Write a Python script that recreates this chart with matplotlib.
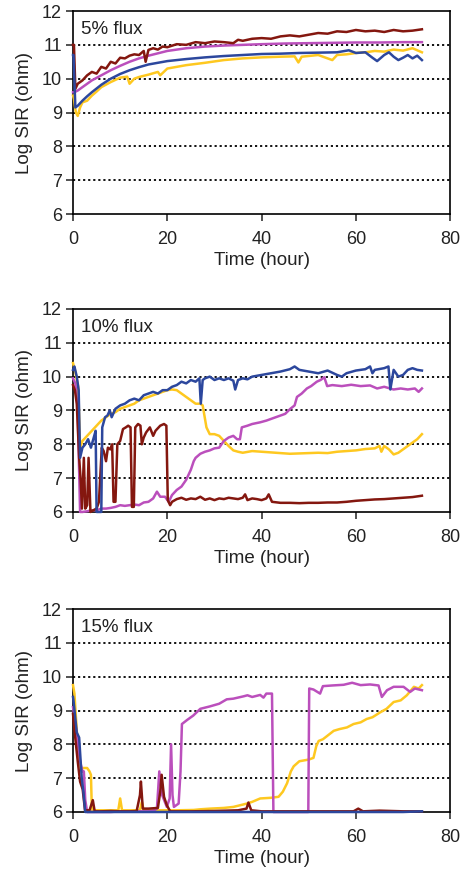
import matplotlib
matplotlib.use("Agg")
import matplotlib.pyplot as plt

plt.rcParams['font.family'] = ['Liberation Sans', 'DejaVu Sans']

# ---- 5% flux ----
t5_red = [0, 0.2, 0.5, 1, 2, 3, 4, 5, 6, 7, 8, 9, 10, 11, 12, 13, 14, 15, 15.4, 16, 17, 18, 19, 20, 22, 24, 26,
          28, 30, 32, 34, 35, 36, 38, 40, 42, 44, 46, 48, 50, 52, 54, 56, 58, 60, 62, 64, 66, 68, 70, 72, 74]
v5_red = [11.0, 11.0, 9.7, 9.85, 9.95, 10.1, 10.2, 10.15, 10.35, 10.3, 10.5, 10.45, 10.62, 10.6, 10.68, 10.72,
          10.7, 10.82, 10.5, 10.85, 10.9, 10.86, 10.95, 10.93, 11.02, 11.0, 11.08, 11.05, 11.1, 11.08, 11.05,
          11.15, 11.12, 11.18, 11.2, 11.18, 11.25, 11.28, 11.25, 11.3, 11.35, 11.33, 11.4, 11.38, 11.44, 11.4,
          11.42, 11.38, 11.44, 11.4, 11.42, 11.46]
t5_mag = [0, 0.3, 1, 2, 3, 4, 6, 8, 10, 12, 14, 16, 18, 20, 24, 28, 32, 36, 40, 45, 50, 55, 60, 65, 70, 74]
v5_mag = [9.6, 9.6, 9.65, 9.75, 9.85, 9.95, 10.1, 10.25, 10.38, 10.5, 10.6, 10.68, 10.75, 10.82, 10.9, 10.95,
          10.98, 11.0, 11.02, 11.04, 11.05, 11.06, 11.07, 11.07, 11.08, 11.08]
t5_blue = [0, 0.1, 0.5, 1, 2, 3, 4, 6, 8, 10, 12, 14, 16, 18, 20, 24, 28, 32, 36, 40, 44, 48, 52, 56, 58.5, 60,
           62, 63.5, 64.5, 66, 67, 68, 69, 70, 71, 72, 73, 74]
v5_blue = [10.7, 10.7, 9.15, 9.2, 9.35, 9.48, 9.6, 9.82, 10.0, 10.14, 10.25, 10.34, 10.42, 10.47, 10.52, 10.58,
           10.63, 10.67, 10.7, 10.73, 10.74, 10.76, 10.77, 10.78, 10.84, 10.76, 10.78, 10.62, 10.52, 10.7, 10.78,
           10.65, 10.55, 10.62, 10.7, 10.6, 10.68, 10.55]
t5_yel = [0, 0.2, 0.6, 1, 1.5, 2, 3, 4, 5, 6, 8, 10, 11.5, 12, 13, 14, 16, 18, 18.5, 20, 24, 28, 32, 36, 40, 44,
          47, 47.8, 48.5, 52, 54, 55, 56, 58, 60, 62, 64, 66, 68, 70, 72, 74]
v5_yel = [9.5, 9.4, 9.0, 8.9, 9.15, 9.3, 9.35, 9.5, 9.62, 9.75, 9.9, 10.03, 10.06, 9.85, 10.0, 10.05, 10.12, 10.2,
          10.1, 10.3, 10.4, 10.47, 10.55, 10.6, 10.63, 10.65, 10.66, 10.48, 10.65, 10.7, 10.6, 10.55, 10.7, 10.72,
          10.76, 10.78, 10.82, 10.8, 10.86, 10.83, 10.9, 10.78]

# ---- 10% flux ----
t10_red = [0, 0.4, 0.8, 1.3, 1.6, 1.9, 2.3, 2.6, 3.0, 3.3, 3.7, 4.3, 5.0, 5.5, 6.1, 6.5, 7.0, 7.4, 7.9, 8.3, 8.6,
           9.0, 9.4, 10, 10.6, 11.2, 11.7, 12.2, 12.5, 12.9, 13.2, 13.8, 14.3, 14.6, 15.0, 15.5, 16.3, 17.0, 17.5,
           18.5, 19.3, 19.8, 20.1, 20.6, 21, 22, 23, 24, 25, 26, 27, 28, 29, 30, 31, 32, 33, 34, 35, 36, 36.5, 37,
           38, 39, 40, 41, 41.5, 42.2, 44, 46, 48, 50, 52, 54, 56, 58, 60, 62, 64, 66, 68, 70, 72, 74]
v10_red = [9.75, 9.6, 9.2, 7.6, 7.0, 6.1, 7.6, 6.1, 6.2, 7.6, 6.0, 6.05, 6.1, 6.3, 7.9, 7.8, 7.5, 7.9, 7.85, 8.0,
           6.3, 6.3, 8.0, 8.1, 8.45, 8.5, 8.55, 8.5, 6.15, 6.15, 8.5, 8.6, 8.55, 8.0, 8.2, 8.35, 8.5, 8.25, 8.4,
           8.55, 8.6, 8.55, 6.35, 6.2, 6.3, 6.38, 6.42, 6.36, 6.4, 6.38, 6.45, 6.36, 6.4, 6.35, 6.4, 6.38, 6.42,
           6.4, 6.38, 6.42, 6.52, 6.35, 6.4, 6.38, 6.35, 6.4, 6.52, 6.3, 6.27, 6.27, 6.26, 6.27, 6.27, 6.28, 6.28,
           6.3, 6.33, 6.35, 6.37, 6.38, 6.4, 6.42, 6.44, 6.48]
t10_mag = [0, 0.5, 1.0, 1.5, 2, 3, 4, 5, 6, 7, 8, 9, 10, 11, 12, 13, 14, 15, 16, 17, 17.8, 18.5, 19.5, 20.3, 21, 22,
           23, 24, 25, 25.6, 26, 27, 28, 29, 30, 31, 32, 33, 34, 34.8, 35.4, 35.8, 37, 38, 39.7, 41, 43, 45, 46.1,
           47, 47.5, 48.5, 49.6, 50.5, 51.7, 52.5, 53.3, 53.9, 55, 57, 59, 61, 63, 64.5, 66, 68, 69.5, 71, 72.5,
           73.3, 74]
v10_mag = [9.95, 9.8, 9.0, 6.0, 6.0, 6.02, 6.05, 6.05, 6.1, 6.1, 6.12, 6.15, 6.2, 6.18, 6.2, 6.22, 6.2, 6.28, 6.3,
           6.4, 6.6, 6.45, 6.45, 6.3, 6.5, 6.65, 6.75, 6.95, 7.25, 7.5, 7.6, 7.72, 7.78, 7.82, 7.88, 7.9, 8.1, 8.2,
           8.25, 8.15, 8.15, 8.5, 8.55, 8.6, 8.65, 8.7, 8.8, 8.9, 9.05, 9.15, 9.4, 9.5, 9.65, 9.72, 9.85, 9.9, 9.98,
           9.72, 9.75, 9.72, 9.76, 9.72, 9.74, 9.65, 9.7, 9.62, 9.65, 9.62, 9.65, 9.55, 9.65]
t10_blue = [0, 0.3, 0.8, 1.2, 1.5, 2.0, 2.6, 3.2, 3.8, 4.4, 4.8, 5.0, 5.5, 6.0, 6.2, 6.8, 7.3, 7.8, 8.2, 9, 10, 11,
            12, 13, 14, 15, 16, 17, 18, 19, 20, 21, 22, 23, 24, 25, 26, 26.8, 27.1, 27.5, 28, 29, 30, 31, 32, 33,
            34, 34.4, 35, 36, 37, 38, 40, 42, 44, 46, 47, 48, 50, 52, 54, 56, 57, 58, 60, 62, 63, 63.5, 64, 66,
            66.9, 67.3, 68, 69, 70, 71, 72, 73, 74]
v10_blue = [10.2, 10.3, 10.0, 9.6, 7.6, 7.9, 8.0, 8.15, 7.9, 8.2, 8.4, 6.0, 6.0, 6.0, 8.5, 8.8, 8.85, 9.0, 8.8,
            9.05, 9.15, 9.2, 9.3, 9.35, 9.3, 9.45, 9.5, 9.55, 9.5, 9.6, 9.6, 9.7, 9.75, 9.85, 9.8, 9.9, 9.85, 9.95,
            9.2, 9.9, 9.95, 10.0, 9.9, 9.95, 9.9, 9.95, 9.88, 9.62, 9.9, 9.95, 9.92, 10.0, 10.05, 10.1, 10.15,
            10.22, 10.3, 10.2, 10.15, 10.1, 10.18, 10.05, 10.0, 10.1, 10.18, 10.22, 10.3, 10.1, 10.2, 10.25, 10.3,
            9.62, 10.2, 10.0, 10.05, 10.2, 10.25, 10.2, 10.18]
t10_yel = [0, 0.4, 1.1, 1.5, 2, 3, 4, 5, 6, 7, 8, 9, 10, 11, 12, 13, 14, 15, 16, 17, 18, 19, 20, 21, 22, 23, 24,
           25, 26, 27, 27.5, 28.3, 29, 30, 31, 32, 33, 34, 35, 36, 38, 40, 42, 44, 46, 48, 50, 52, 54, 56, 58, 60,
           62, 64, 65, 65.4, 66, 67, 68, 69, 70, 71, 72, 73, 74]
v10_yel = [10.4, 10.2, 9.7, 7.9, 8.1, 8.25, 8.4, 8.55, 8.7, 8.8, 8.9, 8.95, 9.05, 9.1, 9.15, 9.2, 9.3, 9.35, 9.4,
           9.45, 9.5, 9.55, 9.6, 9.62, 9.6, 9.5, 9.4, 9.3, 9.2, 9.2, 9.15, 8.5, 8.3, 8.3, 8.25, 8.1, 7.95, 7.82,
           7.78, 7.75, 7.8, 7.78, 7.76, 7.74, 7.72, 7.73, 7.74, 7.75, 7.74, 7.78, 7.8, 7.82, 7.86, 7.88, 7.95, 7.78,
           7.95, 7.85, 7.7, 7.75, 7.85, 7.95, 8.05, 8.15, 8.3]

# ---- 15% flux ----
t15_red = [0, 0.4, 1.0, 1.5, 2.05, 2.55, 3.5, 4.2, 4.6, 6, 8, 10, 12, 13.5, 14.2, 14.4, 14.8, 16, 18, 18.5, 18.8,
           19.3, 19.9, 20.6, 22, 25, 30, 35, 36.8, 37.2, 37.8, 40, 45, 50, 55, 59.5, 60.5, 61.5, 65, 70, 74]
v15_red = [8.9, 8.3, 7.5, 6.9, 6.67, 6.05, 6.05, 6.35, 6.02, 6.02, 6.03, 6.02, 6.02, 6.03, 6.5, 6.9, 6.1, 6.1,
           6.12, 6.6, 7.1, 6.45, 6.2, 6.02, 6.02, 6.02, 6.03, 6.05, 6.1, 6.28, 6.05, 6.02, 6.02, 6.02, 6.02, 6.02,
           6.1, 6.02, 6.04, 6.02, 6.02]
t15_mag = [0, 0.8, 1.5, 2.0, 2.3, 2.6, 3.0, 5, 8, 10, 12, 14, 16, 17.2, 17.8, 18.3, 18.9, 19.9, 20.5, 20.8, 21.1,
           21.4, 22.4, 22.8, 23.1, 24.2, 25.5, 27, 29, 31, 32.6, 34, 36.2, 37, 38, 39.7, 40.4, 41, 42.2, 42.5, 44,
           48, 49.9, 50.1, 51, 52.4, 53, 55, 57.4, 59.2, 61, 63, 64.8, 65.5, 66.6, 68, 70.1, 71.5, 72.5, 74]
v15_mag = [9.1, 8.3, 7.5, 7.2, 7.2, 6.35, 6.0, 6.0, 6.0, 6.02, 6.02, 6.02, 6.02, 6.05, 6.1, 7.2, 6.5, 6.15, 6.4,
           8.0, 6.5, 6.15, 6.25, 7.2, 8.6, 8.72, 8.85, 9.05, 9.12, 9.2, 9.33, 9.35, 9.42, 9.45, 9.4, 9.46, 9.38,
           9.5, 9.5, 6.0, 6.0, 6.0, 6.0, 9.65, 9.62, 9.5, 9.72, 9.74, 9.76, 9.82, 9.75, 9.77, 9.74, 9.4, 9.6, 9.7,
           9.7, 9.55, 9.65, 9.6]
t15_blue = [0, 0.1, 0.8, 1.3, 1.85, 2.2, 2.6, 3, 10, 20, 30, 40, 50, 60, 70, 74]
v15_blue = [9.4, 9.3, 8.35, 8.2, 7.0, 6.6, 6.0, 6.0, 6.0, 6.0, 6.0, 6.0, 6.0, 6.0, 6.0, 6.02]
t15_yel = [0, 0.3, 0.85, 1.6, 2.0, 3.0, 3.5, 3.8, 4.0, 6, 8, 9.6, 10.0, 10.4, 12, 14.2, 14.6, 15.0, 18, 22, 25.6,
           27, 29.1, 32, 34, 36.9, 38, 39.7, 42, 43.6, 44.5, 45.4, 46.2, 46.8, 48, 50, 51, 51.6, 52.1, 53, 55.3,
           56.5, 58.1, 59.5, 61, 62.3, 63.5, 65.2, 66.5, 68, 69.5, 70.8, 72.3, 73.3, 74]
v15_yel = [9.75, 9.5, 8.3, 7.3, 7.3, 7.3, 7.2, 7.1, 6.05, 6.05, 6.05, 6.05, 6.4, 6.05, 6.05, 6.05, 6.3, 6.05, 6.05,
           6.05, 6.06, 6.08, 6.1, 6.12, 6.15, 6.25, 6.3, 6.4, 6.42, 6.45, 6.6, 6.85, 7.2, 7.35, 7.5, 7.55, 7.6, 7.95,
           8.1, 8.15, 8.4, 8.45, 8.5, 8.6, 8.65, 8.75, 8.8, 8.95, 9.05, 9.25, 9.3, 9.45, 9.7, 9.65, 9.75]

panels = [
    ("5% flux", (t5_yel, v5_yel), (t5_mag, v5_mag), (t5_red, v5_red), (t5_blue, v5_blue)),
    ("10% flux", (t10_yel, v10_yel), (t10_mag, v10_mag), (t10_red, v10_red), (t10_blue, v10_blue)),
    ("15% flux", (t15_yel, v15_yel), (t15_mag, v15_mag), (t15_red, v15_red), (t15_blue, v15_blue)),
]
colors = ['#fec820', '#bb4fbc', '#84170f', '#2c479d']
bottoms = [0.7554, 0.4149, 0.072]

fig = plt.figure(figsize=(4.68, 8.75), dpi=100)

for (title, *series), b in zip(panels, bottoms):
    ax = fig.add_axes([0.156, b, 0.806, 0.232])
    for y in [7, 8, 9, 10, 11]:
        ax.axhline(y, color='black', linestyle=(0, (1.2, 1.6)), lw=1.3, zorder=1)
    for (t, v), c in zip(series, colors):
        ax.plot(t, v, color=c, lw=1.8, zorder=3, clip_on=False)
    ax.set_xlim(0, 80)
    ax.set_ylim(6, 12)
    ax.set_xticks([0, 20, 40, 60, 80])
    ax.set_yticks([6, 7, 8, 9, 10, 11, 12])
    ax.tick_params(direction='out', length=5, width=1.1, labelsize=13, colors='#222222', pad=3)
    ax.tick_params(axis='x', pad=7)
    for s in ax.spines.values():
        s.set_linewidth(1.2)
    ax.set_xlabel("Time (hour)", fontsize=13.5, color='#222222', labelpad=3)
    ax.set_ylabel("Log SIR (ohm)", fontsize=13.5, color='#222222', labelpad=6)
    ax.text(0.02, 0.95, title, transform=ax.transAxes, ha='left', va='top', fontsize=13.5, color='#222222')

fig.savefig("out.png", dpi=100)
